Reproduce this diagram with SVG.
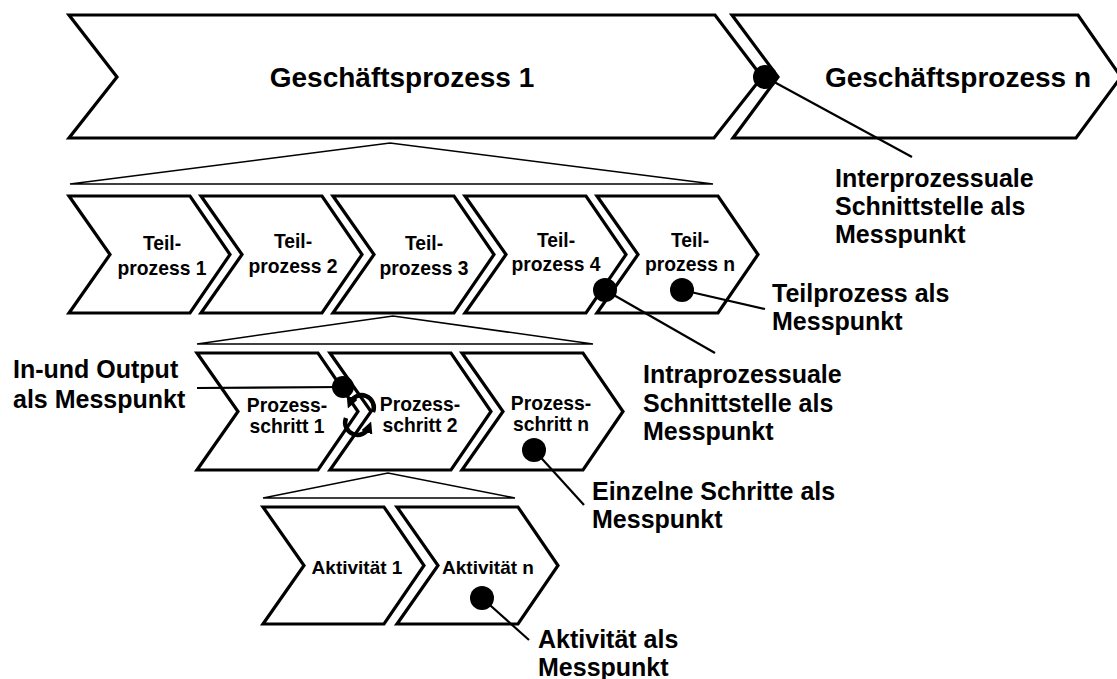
<svg xmlns="http://www.w3.org/2000/svg" width="1117" height="679" viewBox="0 0 1117 679">
  <style>
    .chev { fill: #ffffff; stroke: #000000; stroke-width: 3.2; stroke-linejoin: miter; }
    .fan { fill: none; stroke: #000000; stroke-width: 1.5; }
    .lead { fill: none; stroke: #000000; stroke-width: 2.2; }
    .dot { fill: #000000; }
    text { font-family: "Liberation Sans", Arial, sans-serif; font-weight: bold; fill: #000000; }
    .title { font-size: 28px; text-anchor: middle; }
    .lbl { font-size: 19.3px; text-anchor: middle; }
    .act { font-size: 19px; text-anchor: middle; }
    .note { font-size: 25px; }
    .cyc { fill: none; stroke: #000000; stroke-width: 4.5; }
  </style>
  <defs>
    <!-- chevron shapes: notch 41, body 121, tip 161 -->
    <polygon id="chev2" points="0,0 121,0 161,58.5 121,117 0,117 41,58.5"/>
    <marker id="head" viewBox="0 0 10 10" refX="5" refY="5" markerWidth="2.6" markerHeight="2.6" orient="auto" markerUnits="strokeWidth">
      <path d="M0,0 L10,5 L0,10 z" fill="#000000"/>
    </marker>
  </defs>

  <rect width="1117" height="679" fill="#ffffff"/>

  <!-- level 1: business processes -->
  <g id="gp1">
    <polygon class="chev" points="69,15 715,15 762,77 714,138 69,138 117,77"/>
    <text class="title" x="402" y="87">Geschäftsprozess 1</text>
  </g>
  <g id="gpn">
    <polygon class="chev" points="732,15 1078,15 1121,77 1076,138 733,138 778,77"/>
    <text class="title" x="958" y="87">Geschäftsprozess n</text>
  </g>

  <!-- decomposition fans -->
  <g id="fans">
    <polygon class="fan" points="70,184 390,143 713,184"/>
    <polygon class="fan" points="197,344 393,316 593,344"/>
    <polygon class="fan" points="263,498 388,473 515,498"/>
  </g>

  <!-- level 2: sub-processes -->
  <g id="tp1">
    <use href="#chev2" class="chev" x="69" y="196"/>
    <text class="lbl" x="162" y="250">Teil-</text>
    <text class="lbl" x="162" y="275">prozess 1</text>
  </g>
  <g id="tp2">
    <use href="#chev2" class="chev" x="201" y="196"/>
    <text class="lbl" x="293" y="248">Teil-</text>
    <text class="lbl" x="293" y="273">prozess 2</text>
  </g>
  <g id="tp3">
    <use href="#chev2" class="chev" x="333" y="196"/>
    <text class="lbl" x="424" y="250">Teil-</text>
    <text class="lbl" x="424" y="275">prozess 3</text>
  </g>
  <g id="tp4">
    <use href="#chev2" class="chev" x="465" y="196"/>
    <text class="lbl" x="556" y="247">Teil-</text>
    <text class="lbl" x="556" y="271">prozess 4</text>
  </g>
  <g id="tpn">
    <use href="#chev2" class="chev" x="597" y="196"/>
    <text class="lbl" x="690" y="247">Teil-</text>
    <text class="lbl" x="690" y="271">prozess n</text>
  </g>

  <!-- level 3: process steps -->
  <g id="ps1">
    <use href="#chev2" class="chev" x="197" y="353"/>
    <text class="lbl" x="287" y="412">Prozess-</text>
    <text class="lbl" x="287" y="433">schritt 1</text>
  </g>
  <g id="ps2">
    <use href="#chev2" class="chev" x="330" y="353"/>
    <text class="lbl" x="420" y="411">Prozess-</text>
    <text class="lbl" x="420" y="432">schritt 2</text>
  </g>
  <g id="psn">
    <use href="#chev2" class="chev" x="462" y="353"/>
    <text class="lbl" x="551" y="410">Prozess-</text>
    <text class="lbl" x="551" y="431">schritt n</text>
  </g>

  <!-- level 4: activities -->
  <g id="ak1">
    <use href="#chev2" class="chev" x="263" y="507"/>
    <text class="act" x="357" y="574">Aktivität 1</text>
  </g>
  <g id="akn">
    <use href="#chev2" class="chev" x="397" y="507"/>
    <text class="act" x="488" y="574">Aktivität n</text>
  </g>

  <!-- measuring points and leader lines -->
  <g id="connectors">
    <line class="lead" x1="765" y1="77" x2="912" y2="157"/>
    <circle class="dot" cx="765" cy="77" r="12"/>

    <line class="lead" x1="605" y1="290" x2="715" y2="353"/>
    <circle class="dot" cx="605" cy="290" r="12"/>

    <line class="lead" x1="682" y1="290" x2="765" y2="309"/>
    <circle class="dot" cx="682" cy="290" r="12"/>

    <line class="lead" x1="197" y1="388" x2="343" y2="387"/>
    <circle class="dot" cx="343" cy="387" r="11"/>

    <line class="lead" x1="534" y1="450" x2="584" y2="505"/>
    <circle class="dot" cx="534" cy="450" r="12"/>

    <line class="lead" x1="482" y1="598" x2="529" y2="640"/>
    <circle class="dot" cx="482" cy="598" r="12"/>

    <!-- input/output cycle arrows -->
    <path class="cyc" d="M373,412 A12,12 0 0 0 350,403" marker-end="url(#head)"/>
    <path class="cyc" d="M346,418 A12,12 0 0 0 369,427" marker-end="url(#head)"/>
  </g>

  <!-- annotations -->
  <g id="notes">
    <text class="note" x="835" y="187">Interprozessuale</text>
    <text class="note" x="835" y="215">Schnittstelle als</text>
    <text class="note" x="835" y="243">Messpunkt</text>

    <text class="note" x="772" y="302">Teilprozess als</text>
    <text class="note" x="772" y="330">Messpunkt</text>

    <text class="note" x="643" y="383">Intraprozessuale</text>
    <text class="note" x="643" y="412">Schnittstelle als</text>
    <text class="note" x="643" y="440">Messpunkt</text>

    <text class="note" x="13" y="378">In-und Output</text>
    <text class="note" x="13" y="408">als Messpunkt</text>

    <text class="note" x="592" y="500">Einzelne Schritte als</text>
    <text class="note" x="592" y="528">Messpunkt</text>

    <text class="note" x="538" y="648">Aktivität als</text>
    <text class="note" x="538" y="676">Messpunkt</text>
  </g>
</svg>
